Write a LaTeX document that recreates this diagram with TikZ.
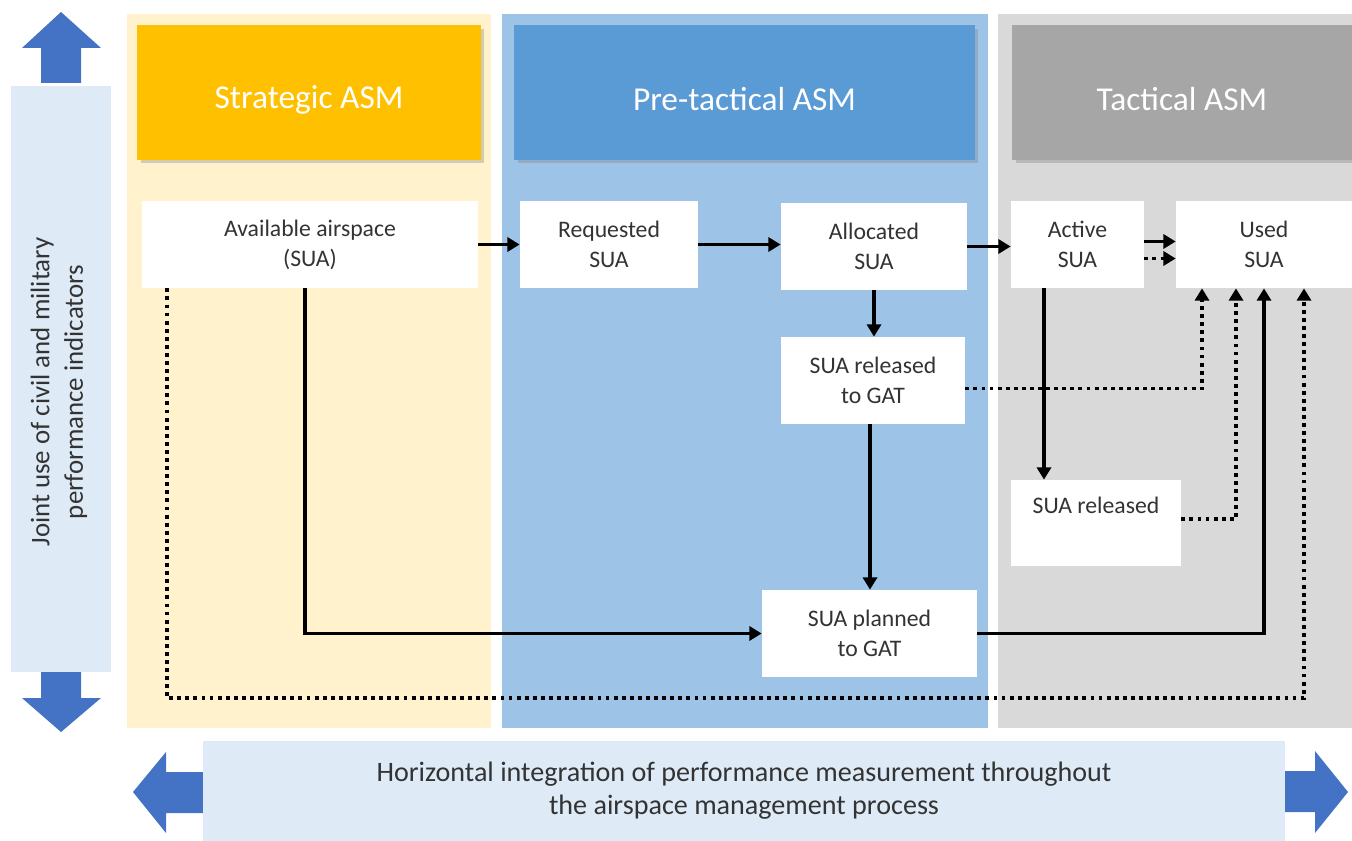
\documentclass[tikz,border=0pt]{standalone}
\usepackage{fontspec}
\setmainfont{Carlito}
\usetikzlibrary{arrows.meta,shadows}
\definecolor{panelyellow}{HTML}{FFF2CC}
\definecolor{panelblue}{HTML}{9DC3E6}
\definecolor{panelgrey}{HTML}{D9D9D9}
\definecolor{headorange}{HTML}{FFC000}
\definecolor{headblue}{HTML}{5B9BD5}
\definecolor{headgrey}{HTML}{A6A6A6}
\definecolor{barblue}{HTML}{DEEBF7}
\definecolor{arrowblue}{HTML}{4472C4}
\tikzset{
  head/.style={text=white, font=\fontsize{19}{22}\selectfont, minimum height=2.7cm, inner sep=0pt,
    text height=21pt, drop shadow={shadow xshift=2pt, shadow yshift=-2pt, opacity=0.35}},
  box/.style={fill=white, text=black!80, align=center, font=\fontsize{13.5}{17}\selectfont,
    minimum height=1.74cm, inner sep=0pt},
  flow/.style={line width=2.2pt, -{Triangle[length=7pt,width=8pt]}},
  dots/.style={line width=2.2pt, dash pattern=on 2.2pt off 2.4pt, -{Triangle[length=7pt,width=8pt]}}
}
\begin{document}
\begin{tikzpicture}[x=0.02cm, y=-0.02cm]
\useasboundingbox (0,0) rectangle (1352,841);
\fill[panelyellow] (127,14) rectangle (491,728);
\fill[panelblue] (502,14) rectangle (988,728);
\fill[panelgrey] (998,14) rectangle (1352,728);
\node[head, fill=headorange, minimum width=6.88cm] (strat) at (309,92.5) {Strategic ASM};
\node[head, fill=headblue, minimum width=9.22cm] (pretac) at (744.5,92.5) {Pre-tactical ASM};
\node[head, fill=headgrey, minimum width=6.8cm] (tac) at (1182,92.5) {Tactical ASM};
\node[box, minimum width=6.72cm] (avail) at (310,244.5) {Available airspace\\(SUA)};
\node[box, minimum width=3.56cm] (req) at (609,244.5) {Requested\\SUA};
\node[box, minimum width=3.72cm] (alloc) at (874,246.5) {Allocated\\SUA};
\node[box, minimum width=3.68cm] (relgat) at (873,380.5) {SUA released\\to GAT};
\node[box, minimum width=4.3cm] (plan) at (869.5,633.5) {SUA planned\\to GAT};
\node[box, minimum width=2.66cm] (act) at (1077.5,244.5) {Active\\SUA};
\node[box, minimum width=3.52cm] (used) at (1264,244.5) {Used\\SUA};
\node[box, minimum width=3.4cm, minimum height=1.72cm, text depth=20pt] (rel) at (1096,523) {SUA released};
\draw[flow] (avail.east) -- (avail.east -| req.west);
\draw[flow] (req.east) -- (req.east -| alloc.west);
\draw[flow] (alloc.east) -- (alloc.east -| act.west);
\draw[flow] ([shift={(0,-3)}]act.east) -- ([shift={(0,-3)}]act.east -| used.west);
\draw[dots] ([shift={(0,14)}]act.east) -- ([shift={(0,14)}]act.east -| used.west);
\draw[flow] (alloc.south) -- (alloc.south |- relgat.north);
\draw[flow] ([shift={(-3,0)}]relgat.south) -- ([shift={(-3,0)}]relgat.south |- plan.north);
\draw[flow] ([shift={(-5,0)}]avail.south) |- (plan.west);
\draw[flow] (plan.east) -| (used.south);
\draw[flow] ([shift={(-33.5,0)}]act.south) -- ([shift={(-33.5,0)}]act.south |- rel.north);
\draw[dots] ([shift={(0,8)}]relgat.east) -| ([shift={(-62,0)}]used.south);
\draw[dots] ([shift={(0,-4)}]rel.east) -| ([shift={(-28,0)}]used.south);
\draw[dots] ([shift={(-143,0)}]avail.south) -- ++(0,410) -| ([shift={(40,0)}]used.south);
\fill[barblue] (11,86) rectangle (111,672);
\node[rotate=90, align=center, text=black!80, font=\fontsize{15.3}{19}\selectfont] (joint) at (59,392)
  {Joint use of civil and military\\performance indicators};
\fill[arrowblue] (41,83) -- (41,48) -- (22,48) -- (61,12) -- (101,48) -- (81,48) -- (81,83) -- cycle;
\fill[arrowblue] (41,672) -- (81,672) -- (81,698) -- (101,698) -- (61,732) -- (22,698) -- (41,698) -- cycle;
\fill[arrowblue] (203,772) -- (166,772) -- (166,752) -- (133,792) -- (166,833) -- (166,813) -- (203,813) -- cycle;
\fill[arrowblue] (1285,771) -- (1315,771) -- (1315,751) -- (1348,792) -- (1315,833) -- (1315,812) -- (1285,812) -- cycle;
\node[fill=barblue, minimum width=21.64cm, minimum height=2cm, inner sep=0pt, align=center,
  text=black!80, font=\fontsize{16}{18.7}\selectfont] (horiz) at (744,791)
  {Horizontal integration of performance measurement throughout\\the airspace management process};
\end{tikzpicture}
\end{document}
